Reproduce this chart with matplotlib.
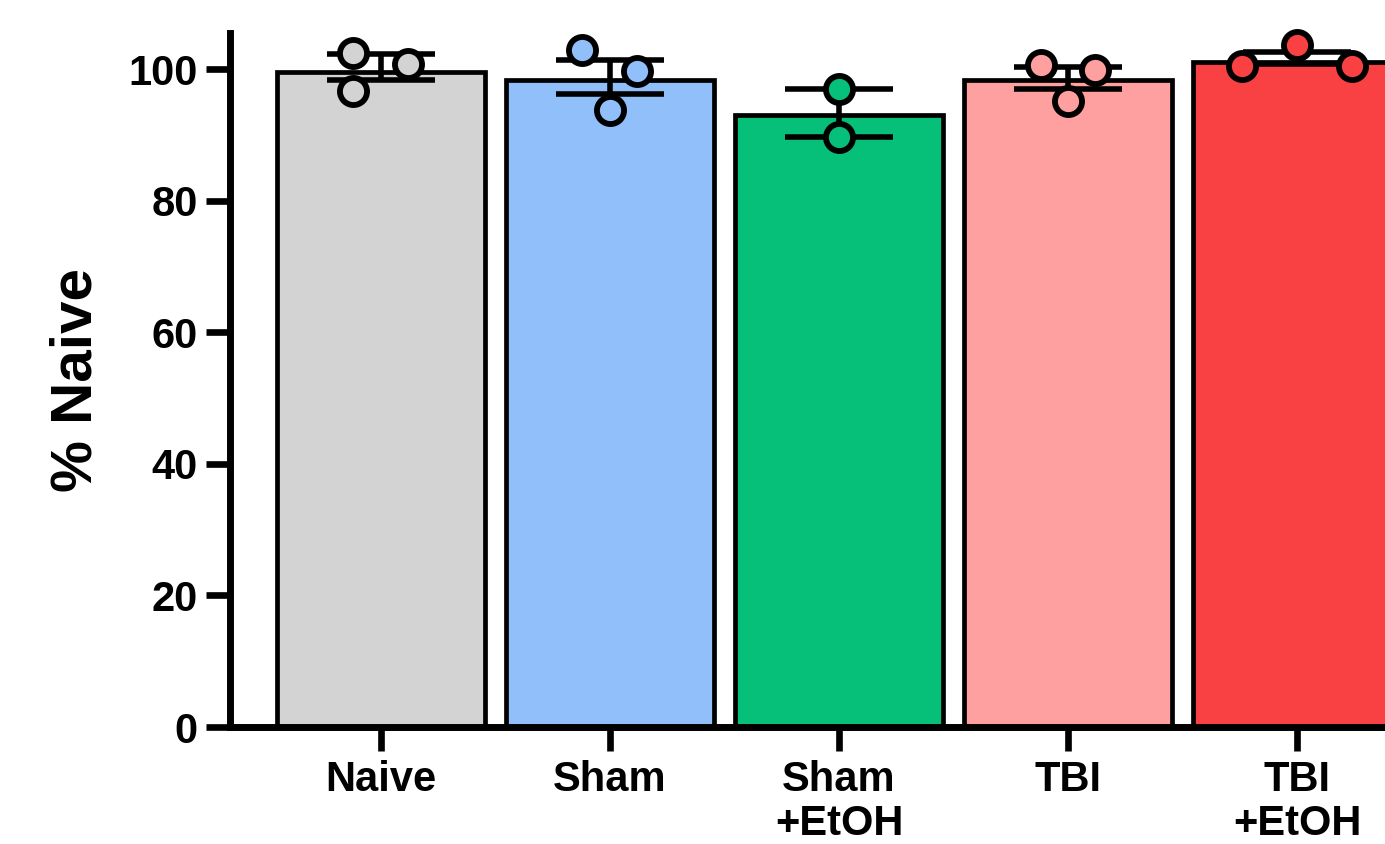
import matplotlib
matplotlib.use("Agg")
import matplotlib.pyplot as plt
import numpy as np

groups = ["Naive", "Sham", "Sham\n+EtOH", "TBI", "TBI\n+EtOH"]
bar_heights = [99.6, 98.4, 93.0, 98.3, 101.1]
err_low = [98.3, 96.2, 89.7, 96.9, 100.8]
err_high = [102.3, 101.4, 97.0, 100.3, 102.6]
points = [
    [102.4, 100.8, 96.7],
    [102.9, 99.7, 93.8],
    [97.0, 89.7],
    [100.6, 99.8, 95.2],
    [100.5, 103.6, 100.5],
]
point_offsets = [
    [-0.12, 0.12, -0.12],
    [-0.12, 0.12, 0.0],
    [0.0, 0.0],
    [-0.12, 0.12, 0.0],
    [-0.24, 0.0, 0.24],
]
colors = ["#D3D3D3", "#90BFF9", "#06BF78", "#FFA0A0", "#F94144"]

plt.rcParams["font.family"] = ["Liberation Sans", "DejaVu Sans"]
plt.rcParams["font.weight"] = "bold"

fig = plt.figure(figsize=(13.85, 8.44), dpi=100)
ax = fig.add_axes([0.166, 0.1386, 0.834, 0.8225])

x = np.arange(len(groups))
ax.bar(x, bar_heights, width=0.91, color=colors, edgecolor="black",
       linewidth=3.4, zorder=2)

h = np.array(bar_heights)
yerr = [h - np.array(err_low), np.array(err_high) - h]
ax.errorbar(x, h, yerr=yerr, fmt="none", ecolor="black", elinewidth=4,
            capsize=39, capthick=4, zorder=3)

for i, (vals, offs) in enumerate(zip(points, point_offsets)):
    ax.plot(i + np.array(offs), vals, "o", ms=19.5, mfc=colors[i], mec="black",
            mew=4.2, zorder=4, clip_on=False)

ax.set_xlim(-0.659, 4.384)
ax.set_ylim(0, 105.5)
ax.set_yticks([0, 20, 40, 60, 80, 100])
ax.set_xticks(x)
ax.set_xticklabels(groups, fontsize=30, fontweight="bold", linespacing=1.12)
ax.tick_params(axis="y", labelsize=30, length=17, width=4.8, pad=6)
ax.tick_params(axis="x", length=17, width=4.8, pad=7)
for lab in ax.get_yticklabels():
    lab.set_fontweight("bold")

ax.set_ylabel("% Naive", fontsize=42, fontweight="bold", labelpad=18)

for side in ["top", "right"]:
    ax.spines[side].set_visible(False)
for side in ["left", "bottom"]:
    ax.spines[side].set_linewidth(5)

fig.savefig("out.png", dpi=100)
